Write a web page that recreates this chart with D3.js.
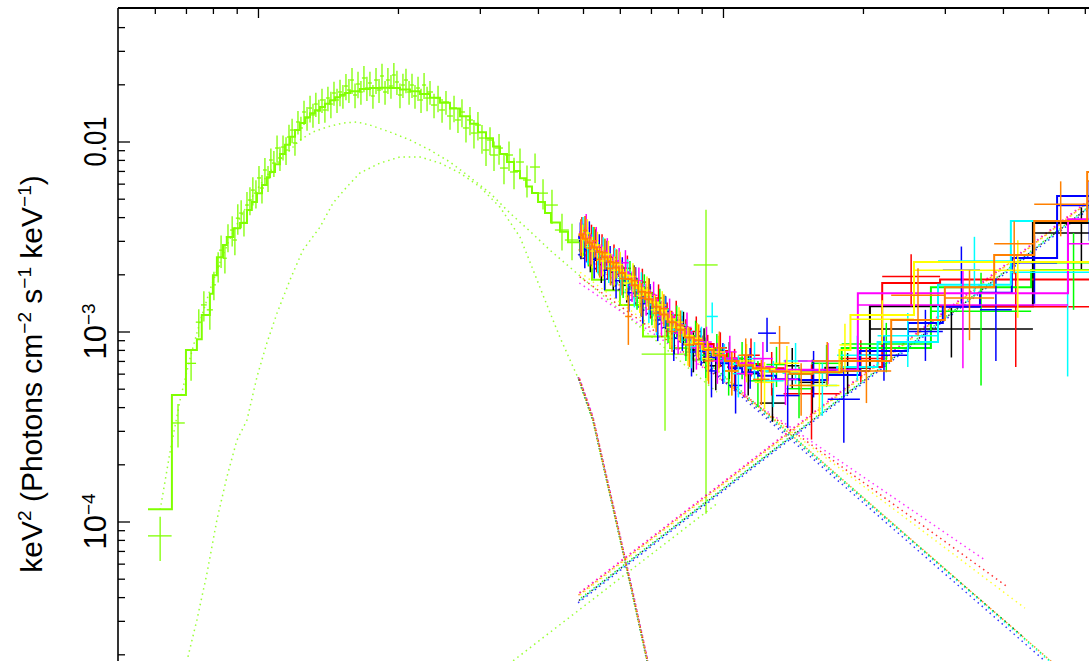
<!DOCTYPE html>
<html>
<head>
<meta charset="utf-8">
<script src="https://cdn.jsdelivr.net/npm/d3@7"></script>
<style>
  html, body { margin: 0; padding: 0; background: #fff; }
  svg { display: block; }
  text { font-family: "Liberation Sans", Arial, Helvetica, sans-serif; fill: #000; }
</style>
</head>
<body>
<svg id="chart" width="1089" height="661"></svg>
<script>
// ---------------------------------------------------------------------------
// Unfolded spectra, E^2 F(E) in keV^2 (photons cm^-2 s^-1 keV^-1) vs energy (keV)
// ---------------------------------------------------------------------------

// Axis ticks
const xMajorTicks = [0.1, 1];
const xMinorTicks = [0.06, 0.07, 0.08, 0.09, 0.2, 0.3, 0.4, 0.5, 0.6, 0.7, 0.8, 0.9, 2, 3, 4, 5, 6, 7, 8, 9];
const yMajorTicks = [1e-4, 1e-3, 1e-2];
const yMinorTicks = [2e-5, 3e-5, 4e-5, 5e-5, 6e-5, 7e-5, 8e-5, 9e-5,
                     2e-4, 3e-4, 4e-4, 5e-4, 6e-4, 7e-4, 8e-4, 9e-4,
                     2e-3, 3e-3, 4e-3, 5e-3, 6e-3, 7e-3, 8e-3, 9e-3,
                     2e-2, 3e-2, 4e-2];
const yTickLabels = [
  { v: 1e-2, base: "0.01", sup: "" },
  { v: 1e-3, base: "10", sup: "\u22123" },
  { v: 1e-4, base: "10", sup: "\u22124" }
];

// Soft-band spectrum: [energy, half-width, flux, error]
const limePoints = [
  [0.0616, 0.0036, 8.4e-5, 2.2e-5], [0.0673, 0.0023, 3.3e-4, 0.85e-4], [0.0718, 0.0018, 6.8e-4, 1.3e-4],
  [0.0746, 0.0011, 1.12e-3, 0.19e-3], [0.0765, 0.0011, 1.38e-3, 0.25e-3], [0.0788, 0.0012, 1.30e-3, 0.28e-3],
  [0.0804, 0.0008, 1.76e-3, 0.30e-3], [0.0821, 0.0008, 2.21e-3, 0.40e-3], [0.0833, 0.0008, 2.68e-3, 0.52e-3],
  [0.0849, 0.0008, 2.43e-3, 0.41e-3], [0.0862, 0.0009, 3.14e-3, 0.53e-3], [0.0880, 0.0009, 3.42e-3, 0.62e-3],
  [0.0892, 0.0009, 3.03e-3, 0.51e-3], [0.0905, 0.0009, 3.95e-3, 0.72e-3], [0.0920, 0.0009, 4.20e-3, 0.71e-3],
  [0.0933, 0.0009, 3.75e-3, 0.59e-3], [0.0947, 0.0009, 4.63e-3, 0.79e-3], [0.0961, 0.0010, 4.92e-3, 0.83e-3],
  [0.0975, 0.0010, 5.55e-3, 0.94e-3], [0.0990, 0.0010, 5.35e-3, 0.91e-3], [0.1005, 0.0010, 6.43e-3, 1.0e-3],
  [0.1020, 0.0010, 5.69e-3, 0.97e-3], [0.1035, 0.0010, 7.08e-3, 1.1e-3], [0.1051, 0.0010, 6.43e-3, 1.0e-3],
  [0.1066, 0.0010, 7.99e-3, 1.2e-3], [0.1082, 0.0010, 7.70e-3, 1.2e-3], [0.1099, 0.0011, 9.24e-3, 1.5e-3],
  [0.1115, 0.0011, 8.19e-3, 1.2e-3], [0.1132, 0.0011, 9.35e-3, 1.4e-3], [0.1149, 0.0011, 9.02e-3, 1.5e-3],
  [0.1166, 0.0012, 1.056e-2, 1.7e-3], [0.1184, 0.0012, 1.149e-2, 1.7e-3], [0.1201, 0.0012, 9.82e-3, 1.4e-3],
  [0.1219, 0.0012, 1.267e-2, 1.8e-3], [0.1237, 0.0012, 1.178e-2, 1.7e-3], [0.1256, 0.0012, 1.43e-2, 2.1e-3],
  [0.1275, 0.0013, 1.33e-2, 1.9e-3], [0.1294, 0.0013, 1.50e-2, 2.4e-3], [0.1313, 0.0013, 1.38e-2, 2.0e-3],
  [0.1332, 0.0013, 1.575e-2, 2.3e-3], [0.1352, 0.0013, 1.447e-2, 2.1e-3], [0.1373, 0.0014, 1.654e-2, 2.4e-3],
  [0.1393, 0.0014, 1.465e-2, 2.1e-3], [0.1414, 0.0014, 1.694e-2, 2.5e-3], [0.1435, 0.0014, 1.575e-2, 2.5e-3],
  [0.1457, 0.0014, 1.80e-2, 2.6e-3], [0.1479, 0.0015, 1.654e-2, 2.4e-3], [0.1501, 0.0015, 1.822e-2, 2.9e-3],
  [0.1523, 0.0015, 1.736e-2, 2.5e-3], [0.1546, 0.0015, 1.959e-2, 3.1e-3], [0.1569, 0.0016, 1.866e-2, 2.7e-3],
  [0.1593, 0.0016, 2.107e-2, 3.3e-3], [0.1617, 0.0016, 1.757e-2, 2.6e-3], [0.1641, 0.0016, 2.007e-2, 3.2e-3],
  [0.1665, 0.0016, 1.822e-2, 2.6e-3], [0.1690, 0.0017, 2.159e-2, 3.4e-3], [0.1715, 0.0017, 1.912e-2, 2.8e-3],
  [0.1741, 0.0017, 2.032e-2, 3.0e-3], [0.1767, 0.0017, 1.736e-2, 2.5e-3], [0.1794, 0.0018, 2.107e-2, 3.3e-3],
  [0.1821, 0.0018, 1.866e-2, 2.7e-3], [0.1848, 0.0018, 2.212e-2, 3.5e-3], [0.1876, 0.0019, 1.822e-2, 2.6e-3],
  [0.1903, 0.0019, 2.107e-2, 3.3e-3], [0.1932, 0.0019, 1.959e-2, 2.8e-3], [0.1960, 0.0019, 2.239e-2, 3.5e-3],
  [0.1990, 0.0020, 2.057e-2, 3.0e-3], [0.2020, 0.0020, 1.757e-2, 2.6e-3], [0.2050, 0.0020, 1.983e-2, 2.9e-3],
  [0.2081, 0.0021, 2.107e-2, 3.1e-3], [0.2113, 0.0021, 1.822e-2, 2.6e-3], [0.2144, 0.0021, 1.983e-2, 2.9e-3],
  [0.2176, 0.0022, 1.736e-2, 2.5e-3], [0.2209, 0.0022, 1.912e-2, 2.8e-3], [0.2242, 0.0022, 1.654e-2, 2.4e-3],
  [0.2276, 0.0023, 1.983e-2, 3.1e-3], [0.2310, 0.0023, 1.694e-2, 2.5e-3], [0.2344, 0.0035, 1.822e-2, 2.6e-3],
  [0.2391, 0.0036, 1.556e-2, 2.3e-3], [0.2439, 0.0036, 1.694e-2, 2.7e-3], [0.2488, 0.0037, 1.465e-2, 2.1e-3],
  [0.2537, 0.0038, 1.614e-2, 2.3e-3], [0.2588, 0.0038, 1.362e-2, 2.1e-3], [0.2640, 0.0039, 1.501e-2, 2.4e-3],
  [0.2692, 0.0040, 1.298e-2, 1.9e-3], [0.2746, 0.0041, 1.430e-2, 2.4e-3], [0.2801, 0.0042, 1.178e-2, 1.9e-3],
  [0.2857, 0.0042, 1.298e-2, 2.2e-3], [0.2914, 0.0043, 1.108e-2, 1.9e-3], [0.2972, 0.0044, 1.221e-2, 2.1e-3],
  [0.3032, 0.0045, 1.043e-2, 1.8e-3], [0.3093, 0.0046, 9.02e-3, 1.6e-3], [0.3155, 0.0047, 1.018e-2, 1.7e-3],
  [0.3218, 0.0064, 8.49e-3, 1.5e-3], [0.3299, 0.0065, 9.24e-3, 1.7e-3], [0.3381, 0.0067, 7.25e-3, 1.3e-3],
  [0.3466, 0.0069, 8.49e-3, 1.5e-3], [0.3553, 0.0070, 6.91e-3, 1.3e-3], [0.3660, 0.0072, 7.80e-3, 1.4e-3],
  [0.3789, 0.0075, 6.27e-3, 1.2e-3], [0.3943, 0.0098, 7.34e-3, 1.3e-3], [0.4102, 0.0102, 5.35e-3, 0.97e-3],
  [0.4288, 0.0127, 4.63e-3, 0.95e-3], [0.4506, 0.0156, 3.42e-3, 0.75e-3], [0.4735, 0.0164, 3.03e-3, 0.66e-3],
  [0.7505, 0.0820, 7.6e-4, 4.6e-4], [0.9194, 0.0546, 2.24e-3, 2.13e-3]
];

// Soft-band folded model, histogram steps: [lower edge, flux] (last entry closes the final bin)
const limeModel = [
  [0.0580, 1.16e-4], [0.0653, 4.63e-4], [0.0700, 8.0e-4], [0.0739, 9.1e-4], [0.0757, 1.22e-3],
  [0.0788, 1.58e-3], [0.0800, 1.98e-3], [0.0816, 2.46e-3], [0.0841, 2.85e-3], [0.0857, 3.14e-3],
  [0.0885, 3.50e-3], [0.0915, 3.72e-3], [0.0947, 4.36e-3], [0.0970, 4.8e-3], [0.0995, 5.34e-3],
  [0.1020, 5.9e-3], [0.1045, 6.49e-3], [0.1061, 6.9e-3], [0.1088, 7.6e-3], [0.1115, 8.6e-3],
  [0.1143, 9.6e-3], [0.1172, 1.06e-2], [0.1201, 1.15e-2], [0.1231, 1.25e-2], [0.1262, 1.34e-2],
  [0.1294, 1.41e-2], [0.1326, 1.46e-2], [0.1359, 1.52e-2], [0.1393, 1.58e-2], [0.1428, 1.65e-2],
  [0.1464, 1.71e-2], [0.1501, 1.76e-2], [0.1539, 1.80e-2], [0.1577, 1.84e-2], [0.1657, 1.89e-2],
  [0.1741, 1.91e-2], [0.1830, 1.92e-2], [0.1922, 1.91e-2], [0.2020, 1.88e-2], [0.2123, 1.84e-2],
  [0.2231, 1.78e-2], [0.2344, 1.70e-2], [0.2463, 1.60e-2], [0.2588, 1.49e-2], [0.2719, 1.36e-2],
  [0.2857, 1.24e-2], [0.2972, 1.12e-2], [0.3093, 1.04e-2], [0.3202, 9.4e-3], [0.3315, 8.6e-3],
  [0.3432, 7.8e-3], [0.3553, 7.0e-3], [0.3660, 6.4e-3], [0.3772, 5.8e-3], [0.3884, 5.35e-3],
  [0.4002, 4.8e-3], [0.4142, 4.2e-3], [0.4267, 3.75e-3], [0.4462, 3.35e-3], [0.4642, 2.95e-3],
  [0.4926, 2.65e-3], [0.5228, 1.87e-3], [0.5576, 1.65e-3], [0.6005, 1.38e-3], [0.6730, 9.4e-4],
  [0.7693, 8.2e-4], [0.8621, 7.1e-4], [0.9707, 7.1e-4]
];

// Soft-band model components: warm Comptonised emission, disk, hard power law
const limeWarmComp = [
  [0.0616, 1.15e-4], [0.0647, 2.32e-4], [0.0680, 4.36e-4], [0.0714, 7.2e-4], [0.0750, 1.12e-3],
  [0.0788, 1.65e-3], [0.0829, 2.32e-3], [0.0871, 3.09e-3], [0.0915, 3.95e-3], [0.0961, 4.92e-3],
  [0.1010, 5.90e-3], [0.1061, 6.91e-3], [0.1115, 7.99e-3], [0.1172, 9.02e-3], [0.1231, 1.018e-2],
  [0.1313, 1.122e-2], [0.1407, 1.192e-2], [0.1523, 1.251e-2], [0.1633, 1.267e-2], [0.1741, 1.221e-2],
  [0.1922, 1.122e-2], [0.2123, 1.018e-2], [0.2344, 9.02e-3], [0.2588, 7.80e-3], [0.2857, 6.49e-3],
  [0.3155, 5.35e-3], [0.3483, 4.20e-3], [0.3846, 3.37e-3], [0.4246, 2.68e-3], [0.4926, 1.96e-3],
  [0.6005, 1.30e-3], [0.7321, 8.6e-4], [0.8925, 5.7e-4], [0.9707, 4.8e-4]
];
const limeDisk = [
  [0.0707, 1.94e-5], [0.0739, 3.03e-5], [0.0777, 5.35e-5], [0.0816, 1.02e-4], [0.0857, 1.71e-4],
  [0.0901, 2.68e-4], [0.0947, 3.42e-4], [0.0995, 5.77e-4], [0.1045, 8.7e-4], [0.1099, 1.25e-3],
  [0.1172, 1.87e-3], [0.1249, 2.68e-3], [0.1359, 3.54e-3], [0.1450, 4.74e-3], [0.1553, 5.77e-3],
  [0.1657, 6.83e-3], [0.1830, 7.70e-3], [0.2020, 8.29e-3], [0.2231, 8.29e-3], [0.2463, 7.70e-3],
  [0.2719, 6.83e-3], [0.3002, 5.77e-3], [0.3315, 4.51e-3], [0.3660, 3.14e-3], [0.3846, 2.32e-3],
  [0.4143, 1.46e-3], [0.4462, 9.3e-4], [0.4926, 5.4e-4], [0.525, 3.45e-4], [0.58, 1.19e-4],
  [0.64, 4.1e-5], [0.70, 1.5e-5]
];
const limePowerlaw = [[0.058, 6.1e-7], [0.97, 1.24e-4]];

// Hard-band spectra: [E low, E high, flux, error, model]
const blackBins = [
  [0.49, 0.50, 3.0e-3, 0.6e-3, 3.2e-3], [0.50, 0.512, 3.4e-3, 0.65e-3, 3.05e-3], [0.512, 0.525, 2.6e-3, 0.55e-3, 2.88e-3],
  [0.525, 0.54, 2.9e-3, 0.55e-3, 2.7e-3], [0.54, 0.555, 2.25e-3, 0.45e-3, 2.55e-3], [0.555, 0.572, 2.55e-3, 0.45e-3, 2.4e-3],
  [0.572, 0.59, 2.05e-3, 0.4e-3, 2.25e-3], [0.59, 0.61, 2.2e-3, 0.4e-3, 2.1e-3], [0.61, 0.632, 1.75e-3, 0.33e-3, 1.95e-3],
  [0.632, 0.655, 1.9e-3, 0.33e-3, 1.8e-3], [0.655, 0.68, 1.5e-3, 0.3e-3, 1.65e-3], [0.68, 0.707, 1.6e-3, 0.3e-3, 1.52e-3],
  [0.707, 0.736, 1.22e-3, 0.26e-3, 1.38e-3], [0.736, 0.768, 1.3e-3, 0.24e-3, 1.24e-3], [0.768, 0.803, 0.98e-3, 0.22e-3, 1.11e-3],
  [0.803, 0.842, 1.06e-3, 0.21e-3, 1.0e-3], [0.842, 0.886, 0.8e-3, 0.19e-3, 9.1e-4], [0.886, 0.936, 0.86e-3, 0.18e-3, 8.4e-4],
  [0.936, 0.995, 0.66e-3, 0.17e-3, 7.7e-4], [0.995, 1.07, 0.72e-3, 0.16e-3, 7.1e-4], [1.07, 1.20, 0.6e-3, 0.14e-3, 6.6e-4],
  [1.20, 1.36, 0.42e-3, 0.085e-3, 6.3e-4], [1.36, 1.46, 0.66e-3, 0.16e-3, 6.1e-4], [1.46, 1.66, 0.54e-3, 0.17e-3, 6.05e-4],
  [1.66, 2.07, 0.62e-3, 0.15e-3, 6.45e-4], [2.07, 4.64, 1.03e-3, 0.3e-3, 1.36e-3], [4.64, 7.5, 3.3e-3, 1.2e-3, 3.73e-3]
];
const redBins = [
  [0.492, 0.503, 3.35e-3, 0.65e-3, 3.25e-3], [0.503, 0.515, 2.9e-3, 0.55e-3, 3.1e-3], [0.515, 0.528, 3.1e-3, 0.55e-3, 2.95e-3],
  [0.528, 0.542, 2.55e-3, 0.5e-3, 2.78e-3], [0.542, 0.557, 2.75e-3, 0.5e-3, 2.62e-3], [0.557, 0.574, 2.3e-3, 0.42e-3, 2.47e-3],
  [0.574, 0.592, 2.45e-3, 0.42e-3, 2.31e-3], [0.592, 0.612, 2.0e-3, 0.36e-3, 2.16e-3], [0.612, 0.634, 2.15e-3, 0.36e-3, 2.0e-3],
  [0.634, 0.658, 1.7e-3, 0.32e-3, 1.85e-3], [0.658, 0.684, 1.82e-3, 0.32e-3, 1.7e-3], [0.684, 0.712, 1.45e-3, 0.28e-3, 1.56e-3],
  [0.712, 0.742, 1.5e-3, 0.27e-3, 1.41e-3], [0.742, 0.775, 1.18e-3, 0.24e-3, 1.27e-3], [0.775, 0.812, 1.22e-3, 0.23e-3, 1.15e-3],
  [0.812, 0.853, 0.95e-3, 0.21e-3, 1.03e-3], [0.853, 0.90, 1.0e-3, 0.2e-3, 9.4e-4], [0.90, 0.955, 0.78e-3, 0.18e-3, 8.6e-4],
  [0.955, 1.02, 0.82e-3, 0.17e-3, 7.9e-4], [1.02, 1.10, 0.65e-3, 0.16e-3, 7.2e-4], [1.10, 1.20, 0.75e-3, 0.17e-3, 6.75e-4],
  [1.20, 1.35, 0.62e-3, 0.16e-3, 6.4e-4], [1.35, 1.78, 0.47e-3, 0.2e-3, 6.1e-4], [1.78, 2.20, 0.72e-3, 0.18e-3, 6.5e-4],
  [2.20, 2.93, 1.95e-3, 0.6e-3, 1.80e-3], [2.93, 6.2, 1.35e-3, 0.7e-3, 1.88e-3]
];
const greenBins = [
  [0.495, 0.507, 3.1e-3, 0.6e-3, 3.1e-3], [0.507, 0.52, 2.75e-3, 0.55e-3, 2.92e-3], [0.52, 0.534, 3.0e-3, 0.55e-3, 2.76e-3],
  [0.534, 0.549, 2.45e-3, 0.48e-3, 2.6e-3], [0.549, 0.565, 2.6e-3, 0.48e-3, 2.45e-3], [0.565, 0.582, 2.15e-3, 0.4e-3, 2.3e-3],
  [0.582, 0.60, 2.3e-3, 0.4e-3, 2.15e-3], [0.60, 0.62, 1.85e-3, 0.35e-3, 2.0e-3], [0.62, 0.642, 2.0e-3, 0.35e-3, 1.85e-3],
  [0.642, 0.665, 1.6e-3, 0.3e-3, 1.72e-3], [0.665, 0.69, 1.7e-3, 0.3e-3, 1.6e-3], [0.69, 0.717, 1.35e-3, 0.27e-3, 1.45e-3],
  [0.717, 0.746, 1.42e-3, 0.26e-3, 1.33e-3], [0.746, 0.778, 1.1e-3, 0.23e-3, 1.2e-3], [0.778, 0.813, 1.15e-3, 0.22e-3, 1.08e-3],
  [0.813, 0.852, 0.9e-3, 0.2e-3, 9.8e-4], [0.852, 0.895, 0.95e-3, 0.19e-3, 9.0e-4], [0.895, 0.943, 0.75e-3, 0.18e-3, 8.3e-4],
  [0.943, 0.998, 0.8e-3, 0.17e-3, 7.7e-4], [0.998, 1.06, 0.62e-3, 0.16e-3, 7.1e-4], [1.06, 1.14, 0.72e-3, 0.16e-3, 6.7e-4],
  [1.14, 1.24, 0.55e-3, 0.15e-3, 6.4e-4], [1.24, 1.37, 0.67e-3, 0.16e-3, 6.15e-4], [1.37, 1.55, 0.5e-3, 0.15e-3, 6.0e-4],
  [1.55, 1.80, 0.68e-3, 0.17e-3, 6.1e-4], [1.80, 2.80, 0.86e-3, 0.25e-3, 8.2e-4], [2.80, 4.6, 1.28e-3, 0.76e-3, 1.71e-3],
  [4.6, 7.0, 2.3e-3, 1.0e-3, 2.11e-3]
];
const blueBins = [
  [0.488, 0.499, 3.1e-3, 0.65e-3, 3.15e-3], [0.499, 0.51, 2.7e-3, 0.55e-3, 2.95e-3], [0.51, 0.522, 3.2e-3, 0.6e-3, 2.8e-3],
  [0.522, 0.535, 2.4e-3, 0.5e-3, 2.65e-3], [0.535, 0.549, 2.75e-3, 0.5e-3, 2.5e-3], [0.549, 0.564, 2.1e-3, 0.45e-3, 2.36e-3],
  [0.564, 0.58, 2.4e-3, 0.42e-3, 2.23e-3], [0.58, 0.598, 1.85e-3, 0.36e-3, 2.1e-3], [0.598, 0.617, 2.1e-3, 0.36e-3, 1.96e-3],
  [0.617, 0.638, 1.6e-3, 0.33e-3, 1.82e-3], [0.638, 0.66, 1.85e-3, 0.33e-3, 1.68e-3], [0.66, 0.684, 1.4e-3, 0.3e-3, 1.55e-3],
  [0.684, 0.71, 1.5e-3, 0.28e-3, 1.42e-3], [0.71, 0.738, 1.15e-3, 0.26e-3, 1.29e-3], [0.738, 0.768, 1.28e-3, 0.25e-3, 1.17e-3],
  [0.768, 0.80, 0.92e-3, 0.22e-3, 1.05e-3], [0.80, 0.836, 1.0e-3, 0.21e-3, 9.5e-4], [0.836, 0.876, 0.78e-3, 0.2e-3, 8.6e-4],
  [0.876, 0.92, 0.85e-3, 0.19e-3, 7.9e-4], [0.92, 0.97, 0.62e-3, 0.17e-3, 7.3e-4], [0.97, 1.03, 0.7e-3, 0.17e-3, 6.8e-4],
  [1.03, 1.10, 0.52e-3, 0.15e-3, 6.4e-4], [1.10, 1.19, 0.66e-3, 0.16e-3, 6.1e-4], [1.19, 1.30, 0.98e-3, 0.2e-3, 5.85e-4],
  [1.30, 1.46, 0.46e-3, 0.15e-3, 5.6e-4], [1.46, 1.68, 0.62e-3, 0.17e-3, 5.55e-4], [1.68, 1.97, 0.44e-3, 0.18e-3, 5.9e-4],
  [1.97, 2.50, 0.75e-3, 0.2e-3, 7.9e-4], [2.50, 2.97, 1.0e-3, 0.3e-3, 1.11e-3], [2.97, 3.57, 2.1e-3, 0.7e-3, 1.35e-3],
  [3.57, 4.18, 1.3e-3, 0.6e-3, 1.6e-3], [4.18, 5.23, 2.3e-3, 0.9e-3, 2.44e-3], [5.23, 7.2, 4.6e-3, 1.6e-3, 5.17e-3]
];
const cyanBins = [
  [0.494, 0.506, 3.3e-3, 0.7e-3, 3.15e-3], [0.506, 0.518, 2.8e-3, 0.55e-3, 2.98e-3], [0.518, 0.531, 3.0e-3, 0.55e-3, 2.82e-3],
  [0.531, 0.545, 2.5e-3, 0.48e-3, 2.66e-3], [0.545, 0.56, 2.65e-3, 0.48e-3, 2.5e-3], [0.56, 0.576, 2.2e-3, 0.4e-3, 2.36e-3],
  [0.576, 0.594, 2.35e-3, 0.4e-3, 2.2e-3], [0.594, 0.613, 1.9e-3, 0.35e-3, 2.06e-3], [0.613, 0.634, 2.05e-3, 0.35e-3, 1.92e-3],
  [0.634, 0.656, 1.65e-3, 0.31e-3, 1.78e-3], [0.656, 0.68, 1.75e-3, 0.3e-3, 1.64e-3], [0.68, 0.706, 1.38e-3, 0.27e-3, 1.5e-3],
  [0.706, 0.734, 1.22e-3, 0.26e-3, 1.37e-3], [0.734, 0.765, 1.3e-3, 0.24e-3, 1.24e-3], [0.765, 0.798, 1.02e-3, 0.22e-3, 1.12e-3],
  [0.798, 0.835, 1.08e-3, 0.21e-3, 1.01e-3], [0.835, 0.876, 0.83e-3, 0.19e-3, 9.2e-4], [0.876, 0.922, 0.88e-3, 0.18e-3, 8.4e-4],
  [0.922, 0.975, 1.2e-3, 0.22e-3, 7.8e-4], [0.975, 1.04, 0.7e-3, 0.16e-3, 7.2e-4], [1.04, 1.12, 0.6e-3, 0.15e-3, 6.75e-4],
  [1.12, 1.22, 0.72e-3, 0.16e-3, 6.45e-4], [1.22, 1.35, 0.55e-3, 0.15e-3, 6.2e-4], [1.35, 1.52, 0.7e-3, 0.17e-3, 6.05e-4],
  [1.52, 1.76, 0.52e-3, 0.16e-3, 6.05e-4], [1.76, 2.15, 0.75e-3, 0.2e-3, 6.5e-4], [2.15, 2.90, 0.95e-3, 0.3e-3, 8.8e-4],
  [2.90, 4.16, 2.35e-3, 0.8e-3, 1.76e-3], [4.16, 7.3, 2.05e-3, 1.47e-3, 3.82e-3]
];
const magentaBins = [
  [0.491, 0.502, 3.2e-3, 0.6e-3, 3.3e-3], [0.502, 0.514, 3.5e-3, 0.65e-3, 3.14e-3], [0.514, 0.527, 2.75e-3, 0.5e-3, 2.98e-3],
  [0.527, 0.541, 3.0e-3, 0.55e-3, 2.82e-3], [0.541, 0.556, 2.4e-3, 0.45e-3, 2.66e-3], [0.556, 0.572, 2.65e-3, 0.45e-3, 2.5e-3],
  [0.572, 0.589, 2.15e-3, 0.4e-3, 2.35e-3], [0.589, 0.607, 2.35e-3, 0.4e-3, 2.2e-3], [0.607, 0.627, 2.3e-3, 0.38e-3, 2.05e-3],
  [0.627, 0.648, 1.75e-3, 0.32e-3, 1.9e-3], [0.648, 0.671, 1.85e-3, 0.32e-3, 1.76e-3], [0.671, 0.696, 1.5e-3, 0.29e-3, 1.62e-3],
  [0.696, 0.723, 1.55e-3, 0.28e-3, 1.47e-3], [0.723, 0.752, 1.2e-3, 0.25e-3, 1.33e-3], [0.752, 0.784, 1.25e-3, 0.24e-3, 1.2e-3],
  [0.784, 0.818, 0.98e-3, 0.22e-3, 1.09e-3], [0.818, 0.856, 1.05e-3, 0.21e-3, 9.9e-4], [0.856, 0.898, 0.82e-3, 0.19e-3, 9.1e-4],
  [0.898, 0.946, 0.88e-3, 0.18e-3, 8.4e-4], [0.946, 1.0, 0.7e-3, 0.17e-3, 7.8e-4], [1.0, 1.07, 0.78e-3, 0.17e-3, 7.2e-4],
  [1.07, 1.16, 0.6e-3, 0.15e-3, 6.8e-4], [1.16, 1.28, 0.72e-3, 0.16e-3, 6.5e-4], [1.28, 1.45, 0.56e-3, 0.15e-3, 6.3e-4],
  [1.45, 1.95, 0.7e-3, 0.17e-3, 6.3e-4], [1.95, 5.52, 1.38e-3, 0.74e-3, 1.59e-3], [5.52, 7.4, 2.9e-3, 1.4e-3, 3.9e-3]
];
const yellowBins = [
  [0.493, 0.505, 3.05e-3, 0.6e-3, 3.2e-3], [0.505, 0.517, 3.3e-3, 0.6e-3, 3.04e-3], [0.517, 0.53, 2.65e-3, 0.5e-3, 2.88e-3],
  [0.53, 0.544, 2.85e-3, 0.5e-3, 2.72e-3], [0.544, 0.559, 2.35e-3, 0.45e-3, 2.56e-3], [0.559, 0.575, 2.55e-3, 0.45e-3, 2.41e-3],
  [0.575, 0.592, 2.1e-3, 0.38e-3, 2.26e-3], [0.592, 0.61, 2.25e-3, 0.38e-3, 2.11e-3], [0.61, 0.63, 1.8e-3, 0.34e-3, 1.97e-3],
  [0.63, 0.651, 1.95e-3, 0.34e-3, 1.83e-3], [0.651, 0.674, 1.55e-3, 0.3e-3, 1.69e-3], [0.674, 0.699, 1.65e-3, 0.3e-3, 1.56e-3],
  [0.699, 0.726, 1.3e-3, 0.26e-3, 1.42e-3], [0.726, 0.755, 1.38e-3, 0.25e-3, 1.29e-3], [0.755, 0.787, 1.05e-3, 0.23e-3, 1.16e-3],
  [0.787, 0.822, 1.12e-3, 0.22e-3, 1.05e-3], [0.822, 0.86, 0.86e-3, 0.2e-3, 9.5e-4], [0.86, 0.902, 0.92e-3, 0.19e-3, 8.7e-4],
  [0.902, 0.95, 0.72e-3, 0.17e-3, 8.1e-4], [0.95, 1.01, 0.78e-3, 0.17e-3, 7.5e-4], [1.01, 1.08, 0.62e-3, 0.16e-3, 7.0e-4],
  [1.08, 1.17, 0.7e-3, 0.16e-3, 6.65e-4], [1.17, 1.29, 0.54e-3, 0.15e-3, 6.35e-4], [1.29, 1.46, 0.68e-3, 0.16e-3, 6.15e-4],
  [1.46, 1.78, 0.52e-3, 0.16e-3, 6.1e-4], [1.78, 1.88, 0.85e-3, 0.25e-3, 8.0e-4], [1.88, 2.575, 1.16e-3, 0.3e-3, 1.22e-3],
  [2.575, 7.2, 2.1e-3, 0.92e-3, 2.32e-3]
];
const orangeBins = [
  [0.489, 0.5, 3.2e-3, 0.7e-3, 3.25e-3], [0.5, 0.511, 3.4e-3, 0.65e-3, 3.08e-3], [0.511, 0.523, 2.75e-3, 0.55e-3, 2.93e-3],
  [0.523, 0.536, 3.0e-3, 0.55e-3, 2.77e-3], [0.536, 0.55, 2.4e-3, 0.48e-3, 2.62e-3], [0.55, 0.565, 2.6e-3, 0.48e-3, 2.46e-3],
  [0.565, 0.581, 2.15e-3, 0.4e-3, 2.32e-3], [0.581, 0.598, 2.3e-3, 0.4e-3, 2.17e-3], [0.598, 0.616, 1.9e-3, 0.35e-3, 2.03e-3],
  [0.616, 0.636, 1.2e-3, 0.35e-3, 1.89e-3], [0.636, 0.657, 1.85e-3, 0.33e-3, 1.75e-3], [0.657, 0.68, 1.5e-3, 0.3e-3, 1.62e-3],
  [0.68, 0.705, 1.6e-3, 0.3e-3, 1.48e-3], [0.705, 0.732, 1.25e-3, 0.26e-3, 1.35e-3], [0.732, 0.761, 1.32e-3, 0.25e-3, 1.23e-3],
  [0.761, 0.793, 1.0e-3, 0.22e-3, 1.12e-3], [0.793, 0.828, 1.08e-3, 0.21e-3, 1.02e-3], [0.828, 0.866, 0.85e-3, 0.2e-3, 9.3e-4],
  [0.866, 0.908, 0.9e-3, 0.19e-3, 8.6e-4], [0.908, 0.955, 0.7e-3, 0.17e-3, 8.0e-4], [0.955, 1.01, 0.82e-3, 0.18e-3, 7.5e-4],
  [1.01, 1.08, 0.62e-3, 0.16e-3, 7.0e-4], [1.08, 1.16, 0.75e-3, 0.17e-3, 6.65e-4], [1.16, 1.26, 0.56e-3, 0.15e-3, 6.4e-4],
  [1.26, 1.39, 0.87e-3, 0.2e-3, 6.15e-4], [1.39, 1.56, 0.52e-3, 0.16e-3, 6.0e-4], [1.56, 1.80, 0.7e-3, 0.18e-3, 6.1e-4],
  [1.80, 2.30, 0.62e-3, 0.2e-3, 7.0e-4], [2.30, 3.0, 1.55e-3, 0.6e-3, 1.15e-3], [3.0, 3.83, 1.5e-3, 0.6e-3, 1.71e-3],
  [3.83, 4.67, 2.9e-3, 0.9e-3, 2.53e-3], [4.67, 6.07, 4.67e-3, 1.5e-3, 3.82e-3], [6.07, 7.5, 6.2e-3, 2.0e-3, 6.91e-3]
];

// Hard-band model components: disk tail, rising hard power law, falling soft power law
const blackDisk   = [[0.49, 5.6e-4], [0.525, 3.45e-4], [0.58, 1.19e-4], [0.64, 4.1e-5], [0.70, 1.5e-5]];
const redDisk     = [[0.492, 5.6e-4], [0.525, 3.55e-4], [0.58, 1.23e-4], [0.64, 4.2e-5], [0.70, 1.55e-5]];
const greenDisk   = [[0.495, 5.1e-4], [0.525, 3.38e-4], [0.58, 1.17e-4], [0.64, 4.0e-5], [0.70, 1.47e-5]];
const blueDisk    = [[0.488, 5.75e-4], [0.525, 3.45e-4], [0.58, 1.19e-4], [0.64, 4.1e-5], [0.70, 1.5e-5]];
const cyanDisk    = [[0.494, 5.4e-4], [0.525, 3.52e-4], [0.58, 1.21e-4], [0.64, 4.2e-5], [0.70, 1.53e-5]];
const magentaDisk = [[0.491, 5.7e-4], [0.525, 3.59e-4], [0.58, 1.24e-4], [0.64, 4.3e-5], [0.70, 1.56e-5]];
const yellowDisk  = [[0.493, 5.3e-4], [0.525, 3.42e-4], [0.58, 1.18e-4], [0.64, 4.06e-5], [0.70, 1.49e-5]];
const orangeDisk  = [[0.489, 5.75e-4], [0.525, 3.48e-4], [0.58, 1.2e-4], [0.64, 4.15e-5], [0.70, 1.52e-5]];

const blackHardPL   = [[0.49, 3.84e-5], [7.5, 6.61e-3]];
const redHardPL     = [[0.492, 4.2e-5], [6.2, 4.99e-3]];
const greenHardPL   = [[0.495, 3.96e-5], [7.0, 5.86e-3]];
const blueHardPL    = [[0.488, 3.73e-5], [7.2, 5.99e-3]];
const cyanHardPL    = [[0.494, 3.87e-5], [7.3, 6.28e-3]];
const magentaHardPL = [[0.491, 4.22e-5], [7.4, 7.04e-3]];
const yellowHardPL  = [[0.493, 4.1e-5], [7.2, 6.5e-3]];
const orangeHardPL  = [[0.489, 4.1e-5], [7.5, 7.08e-3]];

const blackSoftPL   = [[0.49, 2.55e-3], [4.42, 2.47e-5]];
const redSoftPL     = [[0.492, 1.94e-3], [4.10, 4.51e-5]];
const greenSoftPL   = [[0.495, 2.65e-3], [7.0, 9.2e-6]];
const blueSoftPL    = [[0.488, 2.55e-3], [7.2, 8.2e-6]];
const cyanSoftPL    = [[0.494, 2.6e-3], [7.3, 8.3e-6]];
const magentaSoftPL = [[0.491, 1.8e-3], [3.66, 6.27e-5]];
const yellowSoftPL  = [[0.493, 2.05e-3], [4.46, 3.5e-5]];
const orangeSoftPL  = [[0.489, 2.7e-3], [7.5, 8.0e-6]];

// Plot colours (one per spectrum)
const palette = {
  lime: "#80ff00", black: "#000000", red: "#ff0000", green: "#00ff00", blue: "#0000ff",
  cyan: "#00ffff", magenta: "#ff00ff", yellow: "#ffff00", orange: "#ff8000"
};

const hardSets = [
  { colour: palette.black,   bins: blackBins,   disk: blackDisk,   hard: blackHardPL,   soft: blackSoftPL },
  { colour: palette.red,     bins: redBins,     disk: redDisk,     hard: redHardPL,     soft: redSoftPL },
  { colour: palette.green,   bins: greenBins,   disk: greenDisk,   hard: greenHardPL,   soft: greenSoftPL },
  { colour: palette.blue,    bins: blueBins,    disk: blueDisk,    hard: blueHardPL,    soft: blueSoftPL },
  { colour: palette.cyan,    bins: cyanBins,    disk: cyanDisk,    hard: cyanHardPL,    soft: cyanSoftPL },
  { colour: palette.magenta, bins: magentaBins, disk: magentaDisk, hard: magentaHardPL, soft: magentaSoftPL },
  { colour: palette.yellow,  bins: yellowBins,  disk: yellowDisk,  hard: yellowHardPL,  soft: yellowSoftPL },
  { colour: palette.orange,  bins: orangeBins,  disk: orangeDisk,  hard: orangeHardPL,  soft: orangeSoftPL }
];

// ---------------------------------------------------------------------------
// Scales and frame
// ---------------------------------------------------------------------------
const svg = d3.select("#chart");
const frameLeft = 118, frameTop = 8;
const decadeX = 465;

const x = d3.scaleLog()
  .domain([0.05, 10])
  .range([frameLeft, frameLeft + decadeX * Math.log10(10 / 0.05)]);
const y = d3.scaleLog()
  .domain([1e-4, 1e-2])
  .range([521.5, 141.5]);

svg.append("defs").append("clipPath").attr("id", "plotClip")
  .append("rect").attr("x", frameLeft).attr("y", frameTop)
  .attr("width", 1200).attr("height", 800);

const plot = svg.append("g").attr("clip-path", "url(#plotClip)");

const lineGen = d3.line().x(d => x(d[0])).y(d => y(d[1]));
const stepGen = d3.line().x(d => x(d[0])).y(d => y(d[1])).curve(d3.curveStepAfter);
const safe = v => Math.max(v, 1e-8);

function dotted(g, data, colour) {
  g.append("path").datum(data)
    .attr("d", lineGen)
    .attr("fill", "none")
    .attr("stroke", colour)
    .attr("stroke-width", 1.5)
    .attr("stroke-opacity", 0.8)
    .attr("stroke-dasharray", "1.5 3.8");
}

// ---------------------------------------------------------------------------
// Soft-band spectrum
// ---------------------------------------------------------------------------
const gLime = plot.append("g");
dotted(gLime, limeWarmComp, palette.lime);
dotted(gLime, limeDisk, palette.lime);
dotted(gLime, limePowerlaw, palette.lime);

gLime.append("g").selectAll("line").data(limePoints).join("line")
  .attr("x1", d => x(d[0] - d[1])).attr("x2", d => x(d[0] + d[1]))
  .attr("y1", d => y(d[2])).attr("y2", d => y(d[2]))
  .attr("stroke", palette.lime).attr("stroke-width", 1.3);
gLime.append("g").selectAll("line").data(limePoints).join("line")
  .attr("x1", d => x(d[0])).attr("x2", d => x(d[0]))
  .attr("y1", d => y(d[2] + d[3])).attr("y2", d => y(safe(d[2] - d[3])))
  .attr("stroke", palette.lime).attr("stroke-width", 1.3);

gLime.append("path").datum(limeModel)
  .attr("d", stepGen)
  .attr("fill", "none").attr("stroke", palette.lime).attr("stroke-width", 2);

// ---------------------------------------------------------------------------
// Hard-band spectra
// ---------------------------------------------------------------------------
hardSets.forEach(set => {
  const g = plot.append("g");
  dotted(g, set.disk, set.colour);
  dotted(g, set.hard, set.colour);
  dotted(g, set.soft, set.colour);
});

hardSets.forEach(set => {
  const g = plot.append("g");
  g.append("g").selectAll("line").data(set.bins).join("line")
    .attr("x1", d => x(d[0])).attr("x2", d => x(d[1]))
    .attr("y1", d => y(d[2])).attr("y2", d => y(d[2]))
    .attr("stroke", set.colour).attr("stroke-width", 1.5);
  g.append("g").selectAll("line").data(set.bins).join("line")
    .attr("x1", d => x(Math.sqrt(d[0] * d[1]))).attr("x2", d => x(Math.sqrt(d[0] * d[1])))
    .attr("y1", d => y(d[2] + d[3])).attr("y2", d => y(safe(d[2] - d[3])))
    .attr("stroke", set.colour).attr("stroke-width", 1.5);
  const steps = set.bins.map(d => [d[0], d[4]]);
  const last = set.bins[set.bins.length - 1];
  steps.push([last[1], last[4]]);
  g.append("path").datum(steps)
    .attr("d", stepGen)
    .attr("fill", "none").attr("stroke", set.colour).attr("stroke-width", 2);
});

// ---------------------------------------------------------------------------
// Axes (ticks drawn inward from the frame)
// ---------------------------------------------------------------------------
const topMajor = d3.axisBottom(x).tickValues(xMajorTicks).tickSize(10).tickFormat("");
const topMinor = d3.axisBottom(x).tickValues(xMinorTicks).tickSize(6).tickFormat("");
const leftMajor = d3.axisRight(y).tickValues(yMajorTicks).tickSize(12).tickFormat("");
const leftMinor = d3.axisRight(y).tickValues(yMinorTicks).tickSize(7).tickFormat("");

[topMajor, topMinor].forEach(ax => {
  svg.append("g").attr("transform", `translate(0,${frameTop})`).call(ax)
    .call(g => g.select(".domain").remove())
    .call(g => g.selectAll(".tick line").attr("stroke", "#000").attr("stroke-width", 1.3));
});
[leftMajor, leftMinor].forEach(ax => {
  svg.append("g").attr("transform", `translate(${frameLeft},0)`).call(ax)
    .call(g => g.select(".domain").remove())
    .call(g => g.selectAll(".tick line").attr("stroke", "#000").attr("stroke-width", 1.3));
});

// Frame edges
svg.append("line").attr("x1", frameLeft).attr("x2", 1200).attr("y1", frameTop).attr("y2", frameTop)
  .attr("stroke", "#000").attr("stroke-width", 1.8);
svg.append("line").attr("x1", frameLeft).attr("x2", frameLeft).attr("y1", frameTop).attr("y2", 700)
  .attr("stroke", "#000").attr("stroke-width", 1.6);

// Y tick labels (rotated)
yTickLabels.forEach(t => {
  const txt = svg.append("text")
    .attr("transform", `translate(106,${y(t.v)}) rotate(-90)`)
    .attr("text-anchor", "middle")
    .attr("font-size", 31);
  txt.append("tspan").text(t.base);
  if (t.sup) {
    txt.append("tspan").attr("dy", -11).attr("font-size", 19).text(t.sup);
  } else {
    txt.attr("textLength", 50).attr("lengthAdjust", "spacingAndGlyphs");
  }
});

// Y axis title
const title = svg.append("text")
  .attr("transform", "translate(42,374) rotate(-90)")
  .attr("text-anchor", "middle")
  .attr("font-size", 30);
const titleParts = [
  ["keV", false], ["2", true], [" (Photons cm", false], ["\u22122", true],
  [" s", false], ["\u22121", true], [" keV", false], ["\u22121", true], [")", false]
];
let raised = false;
titleParts.forEach(([s, sup]) => {
  const ts = title.append("tspan").text(s);
  if (sup) {
    ts.attr("font-size", 19);
    if (!raised) { ts.attr("dy", -11); raised = true; }
  } else if (raised) {
    ts.attr("dy", 11); raised = false;
  }
});
</script>
</body>
</html>
